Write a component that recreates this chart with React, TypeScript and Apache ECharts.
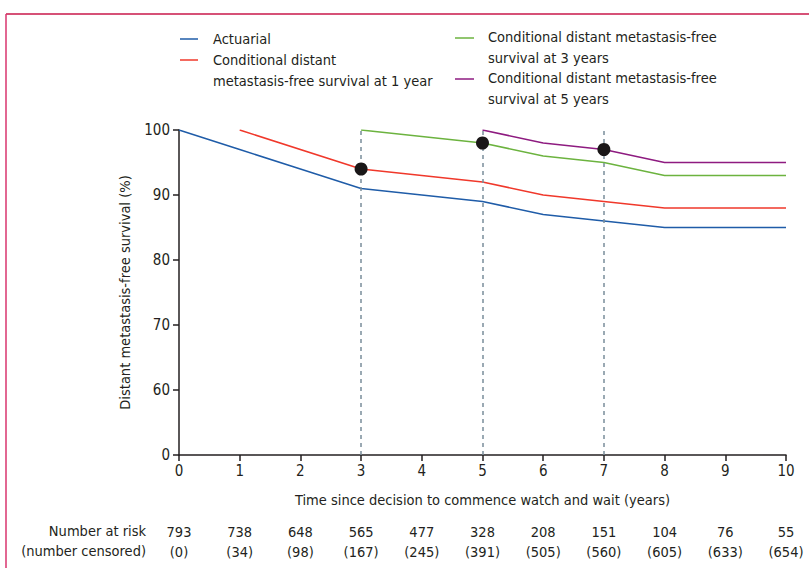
import React, { useEffect, useRef } from "react";
import * as echarts from "echarts";

const years = [0, 1, 2, 3, 4, 5, 6, 7, 8, 9, 10];
const actuarial = [100, 97, 94, 91, 90, 89, 87, 86, 85, 85, 85];
const cond1Years = [1, 3, 4, 5, 6, 7, 8, 9, 10];
const cond1 = [100, 94, 93, 92, 90, 89, 88, 88, 88];
const cond3Years = [3, 5, 6, 7, 8, 9, 10];
const cond3 = [100, 98, 96, 95, 93, 93, 93];
const cond5Years = [5, 6, 7, 8, 9, 10];
const cond5 = [100, 98, 97, 95, 95, 95];
const markerYears = [3, 5, 7];
const markerValues = [94, 98, 97];
const atRisk = [793, 738, 648, 565, 477, 328, 208, 151, 104, 76, 55];
const censored = [0, 34, 98, 167, 245, 391, 505, 560, 605, 633, 654];
const yTicks = [50, 60, 70, 80, 90, 100];
const yTickLabels = ["0", "60", "70", "80", "90", "100"];

const seriesNames = [
  "Actuarial",
  "Conditional distant\nmetastasis-free survival at 1 year",
  "Conditional distant metastasis-free\nsurvival at 3 years",
  "Conditional distant metastasis-free\nsurvival at 5 years",
];
const colors = ["#1f5ca8", "#f0382b", "#6cb33f", "#8e1b80"];

const FONT = "'Liberation Sans Narrow', 'DejaVu Sans Condensed', 'Open Sans', sans-serif";
const TXT = "#231f20";
const FS = 14.5;

const pair = (xs: number[], ys: number[]) => xs.map((x, i) => [x, ys[i]]);

export default function App() {
  const ref = useRef<HTMLDivElement>(null);
  useEffect(() => {
    const chart = echarts.init(ref.current!, null, { renderer: "svg" });
    const baseX = {
      type: "value",
      min: 0,
      max: 10,
      interval: 1,
      gridIndex: 0,
    };
    chart.setOption({
      animation: false,
      textStyle: { fontFamily: FONT, color: TXT },
      grid: { left: 179, right: 23, top: 130, bottom: 113 },
      xAxis: [
        {
          ...baseX,
          name: "Time since decision to commence watch and wait (years)",
          nameLocation: "middle",
          nameGap: 37,
          nameTextStyle: { fontFamily: FONT, fontSize: FS, color: TXT },
          axisLine: { lineStyle: { color: TXT, width: 1.5 } },
          axisTick: { length: 6, lineStyle: { color: TXT, width: 1.5 } },
          axisLabel: { fontFamily: FONT, fontSize: 15, color: TXT, margin: 8 },
          splitLine: { show: false },
        },
        {
          ...baseX,
          position: "bottom",
          offset: 61,
          axisLine: { show: false },
          axisTick: { show: false },
          splitLine: { show: false },
          axisLabel: {
            fontFamily: FONT, fontSize: FS, color: TXT, margin: 8,
            formatter: (v: number) => String(atRisk[Math.round(v)]),
          },
        },
        {
          ...baseX,
          position: "bottom",
          offset: 81,
          axisLine: { show: false },
          axisTick: { show: false },
          splitLine: { show: false },
          axisLabel: {
            fontFamily: FONT, fontSize: FS, color: TXT, margin: 8,
            formatter: (v: number) => "(" + censored[Math.round(v)] + ")",
          },
        },
      ],
      yAxis: {
        type: "value",
        min: 50,
        max: 100,
        interval: 10,
        name: "Distant metastasis-free survival (%)",
        nameLocation: "middle",
        nameGap: 47,
        nameTextStyle: { fontFamily: FONT, fontSize: FS, color: TXT },
        axisLine: { show: true, lineStyle: { color: TXT, width: 1.5 } },
        axisTick: { show: true, length: 6, lineStyle: { color: TXT, width: 1.5 } },
        axisLabel: {
          fontFamily: FONT, fontSize: 15, color: TXT, margin: 9,
          formatter: (v: number) => yTickLabels[yTicks.indexOf(v)] ?? String(v),
        },
        splitLine: { show: false },
      },
      series: [
        {
          name: seriesNames[0], type: "line", data: pair(years, actuarial),
          showSymbol: false, lineStyle: { color: colors[0], width: 1.5 }, itemStyle: { color: colors[0] },
          markLine: {
            silent: true, symbol: "none", label: { show: false },
            lineStyle: { color: "#7a8d9a", type: [4, 4], width: 1.5 },
            data: markerYears.map((x) => [{ coord: [x, 50] }, { coord: [x, 100] }]),
          },
        },
        {
          name: seriesNames[1], type: "line", data: pair(cond1Years, cond1),
          showSymbol: false, lineStyle: { color: colors[1], width: 1.5 }, itemStyle: { color: colors[1] },
        },
        {
          name: seriesNames[2], type: "line", data: pair(cond3Years, cond3),
          showSymbol: false, lineStyle: { color: colors[2], width: 1.5 }, itemStyle: { color: colors[2] },
        },
        {
          name: seriesNames[3], type: "line", data: pair(cond5Years, cond5),
          showSymbol: false, lineStyle: { color: colors[3], width: 1.5 }, itemStyle: { color: colors[3] },
        },
        {
          name: "Markers", type: "scatter", data: pair(markerYears, markerValues),
          symbolSize: 13, itemStyle: { color: "#1a1718", opacity: 1 }, z: 5,
        },
      ],
      graphic: [
        { type: "line", shape: { x1: 6, y1: 14, x2: 809, y2: 14 }, style: { stroke: "#c8174a", lineWidth: 1.5 } },
        { type: "line", shape: { x1: 6, y1: 14, x2: 6, y2: 568 }, style: { stroke: "#d8356e", lineWidth: 1.5 } },
        // legend
        { type: "line", shape: { x1: 180, y1: 39, x2: 198, y2: 39 }, style: { stroke: colors[0], lineWidth: 1.5 } },
        { type: "text", x: 213, y: 39, style: { text: "Actuarial", font: `${FS}px ${FONT}`, fill: TXT, verticalAlign: "middle" } },
        { type: "line", shape: { x1: 180, y1: 60, x2: 198, y2: 60 }, style: { stroke: colors[1], lineWidth: 1.5 } },
        { type: "text", x: 213, y: 50, style: { text: seriesNames[1], font: `${FS}px ${FONT}`, lineHeight: 20.5, fill: TXT, verticalAlign: "top" } },
        { type: "line", shape: { x1: 455, y1: 38, x2: 474, y2: 38 }, style: { stroke: colors[2], lineWidth: 1.5 } },
        { type: "text", x: 488, y: 27, style: { text: seriesNames[2], font: `${FS}px ${FONT}`, lineHeight: 20.5, fill: TXT, verticalAlign: "top" } },
        { type: "line", shape: { x1: 455, y1: 79, x2: 474, y2: 79 }, style: { stroke: colors[3], lineWidth: 1.5 } },
        { type: "text", x: 488, y: 68, style: { text: seriesNames[3], font: `${FS}px ${FONT}`, lineHeight: 20.5, fill: TXT, verticalAlign: "top" } },
        // at-risk row titles
        { type: "text", x: 146, y: 531, style: { text: "Number at risk", font: `${FS}px ${FONT}`, fill: TXT, align: "right", verticalAlign: "middle" } },
        { type: "text", x: 146, y: 551, style: { text: "(number censored)", font: `${FS}px ${FONT}`, fill: TXT, align: "right", verticalAlign: "middle" } },
      ],
    });
    return () => chart.dispose();
  }, []);
  return (
    <div
      ref={ref}
      style={{ position: "absolute", left: 0, top: 0, width: 809, height: 568, background: "#fff" }}
    />
  );
}
